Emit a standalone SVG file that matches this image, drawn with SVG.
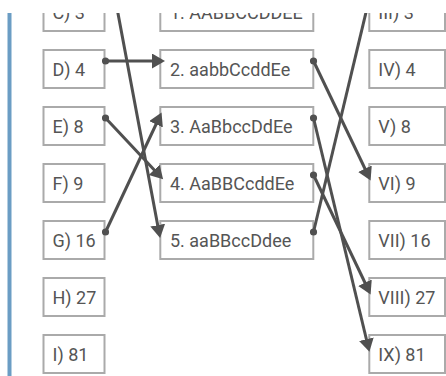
<svg xmlns="http://www.w3.org/2000/svg" width="446" height="376" viewBox="0 0 446 376">
<style>
.box{fill:#fff;stroke:#aaaaaa;stroke-width:2}
.t{font-family:Roboto,"Liberation Sans",sans-serif;font-size:18px;fill:#555555}
.c{stroke:#505050;stroke-width:3;fill:none;marker-start:url(#dot);marker-end:url(#arr)}
</style>
<defs>
<clipPath id="view"><rect x="0" y="13" width="446" height="363"/></clipPath>
<marker id="arr" markerUnits="userSpaceOnUse" markerWidth="14" markerHeight="16" refX="7" refY="7.5" orient="auto"><path d="M0,0 L13,7.5 L0,15 Z" fill="#505050"/></marker>
<marker id="dot" markerUnits="userSpaceOnUse" markerWidth="8" markerHeight="8" refX="4" refY="4"><circle cx="4" cy="4" r="3.6" fill="#505050"/></marker>
</defs>
<rect x="0" y="0" width="446" height="376" fill="#fff"/>
<g clip-path="url(#view)">
<rect x="7.5" y="0" width="4" height="376" fill="#6b9dc4"/>
<g id="nC"><rect class="box" x="43.5" y="-7" width="61" height="38"/><text class="t" x="52.5" y="18.5">C) 3</text></g>
<g id="nD"><rect class="box" x="43.5" y="50" width="61" height="38"/><text class="t" x="52.5" y="75.5">D) 4</text></g>
<g id="nE"><rect class="box" x="43.5" y="107" width="61" height="38"/><text class="t" x="52.5" y="132.5">E) 8</text></g>
<g id="nF"><rect class="box" x="43.5" y="164" width="61" height="38"/><text class="t" x="52.5" y="189.5">F) 9</text></g>
<g id="nG"><rect class="box" x="43.5" y="221" width="61" height="38"/><text class="t" x="52.5" y="246.5">G) 16</text></g>
<g id="nH"><rect class="box" x="43.5" y="278" width="61" height="38"/><text class="t" x="52.5" y="303.5">H) 27</text></g>
<g id="nI"><rect class="box" x="43.5" y="335" width="61" height="38"/><text class="t" x="52.5" y="360.5">I) 81</text></g>
<g id="n1"><rect class="box" x="160.3" y="-7" width="153" height="38"/><text class="t" x="170" y="18.5">1. AABBCCDDEE</text></g>
<g id="n2"><rect class="box" x="160.3" y="50" width="153" height="38"/><text class="t" x="170" y="75.5">2. aabbCcddEe</text></g>
<g id="n3"><rect class="box" x="160.3" y="107" width="153" height="38"/><text class="t" x="170" y="132.5">3. AaBbccDdEe</text></g>
<g id="n4"><rect class="box" x="160.3" y="164" width="153" height="38"/><text class="t" x="170" y="189.5">4. AaBBCcddEe</text></g>
<g id="n5"><rect class="box" x="160.3" y="221" width="153" height="38"/><text class="t" x="170" y="246.5">5. aaBBccDdee</text></g>
<g id="nIII"><rect class="box" x="369.3" y="-7" width="75.7" height="38"/><text class="t" x="378.3" y="18.5">III) 3</text></g>
<g id="nIV"><rect class="box" x="369.3" y="50" width="75.7" height="38"/><text class="t" x="378.3" y="75.5">IV) 4</text></g>
<g id="nV"><rect class="box" x="369.3" y="107" width="75.7" height="38"/><text class="t" x="378.3" y="132.5">V) 8</text></g>
<g id="nVI"><rect class="box" x="369.3" y="164" width="75.7" height="38"/><text class="t" x="378.3" y="189.5">VI) 9</text></g>
<g id="nVII"><rect class="box" x="369.3" y="221" width="75.7" height="38"/><text class="t" x="378.3" y="246.5">VII) 16</text></g>
<g id="nVIII"><rect class="box" x="369.3" y="278" width="75.7" height="38"/><text class="t" x="378.3" y="303.5">VIII) 27</text></g>
<g id="nIX"><rect class="box" x="369.3" y="335" width="75.7" height="38"/><text class="t" x="378.3" y="360.5">IX) 81</text></g>
<g id="connectors">
<path class="c" d="M105.5,-53 L159,232"/>
<path class="c" d="M105.5,61 L159,61"/>
<path class="c" d="M105.5,118 L159,175"/>
<path class="c" d="M105.5,232 L159,118"/>
<path class="c" d="M313.5,61 L368,175"/>
<path class="c" d="M313.5,118 L368,346"/>
<path class="c" d="M313.5,175 L368,289"/>
<path class="c" d="M313.5,232 L368,4"/>
</g>
</g>
</svg>
